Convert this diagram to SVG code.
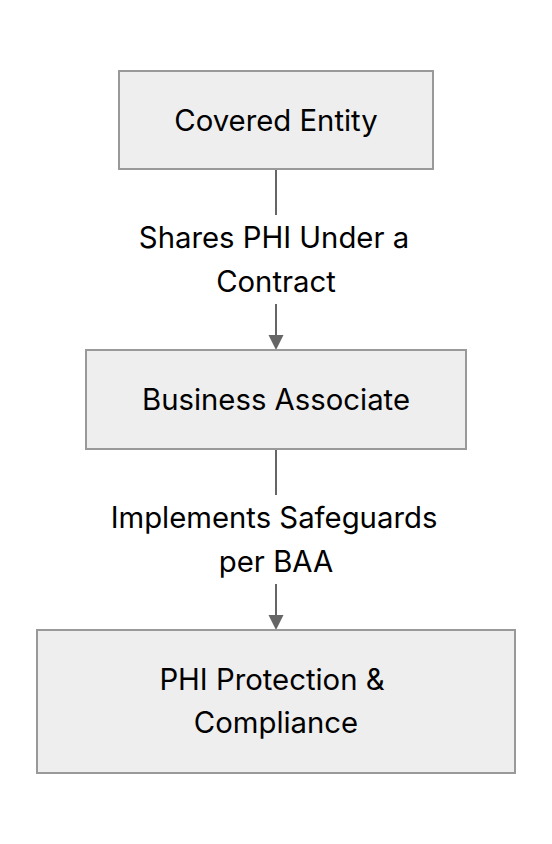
<svg xmlns="http://www.w3.org/2000/svg" width="552" height="844" viewBox="0 0 552 844">
<style>
.box{fill:#eeeeee;stroke:#999999;stroke-width:2}
.t{font-family:Inter,"Liberation Sans",sans-serif;font-size:29.3px;fill:#000000;text-anchor:middle}
.edge{stroke:#666666;stroke-width:2;fill:none}
.head{fill:#666666}
</style>
<rect width="552" height="844" fill="#ffffff"/>
<g id="connectors">
<line class="edge" x1="276" y1="170" x2="276" y2="215"/>
<line class="edge" x1="276" y1="304" x2="276" y2="337"/>
<polygon class="head" points="268.5,335 283.5,335 276,350"/>
<text class="t" x="274" y="248">Shares PHI Under a</text>
<text class="t" x="276" y="292">Contract</text>
<line class="edge" x1="276" y1="450" x2="276" y2="495"/>
<line class="edge" x1="276" y1="584" x2="276" y2="617"/>
<polygon class="head" points="268.5,615 283.5,615 276,630"/>
<text class="t" x="274" y="528">Implements Safeguards</text>
<text class="t" x="276" y="572">per BAA</text>
</g>
<g id="covered-entity">
<rect class="box" x="119" y="71" width="314" height="98"/>
<text class="t" x="276" y="131">Covered Entity</text>
</g>
<g id="business-associate">
<rect class="box" x="86" y="350" width="380" height="99"/>
<text class="t" x="276" y="410">Business Associate</text>
</g>
<g id="phi-protection">
<rect class="box" x="37" y="630" width="478" height="143"/>
<text class="t" x="272" y="690">PHI Protection &amp;</text>
<text class="t" x="276" y="733">Compliance</text>
</g>
</svg>
